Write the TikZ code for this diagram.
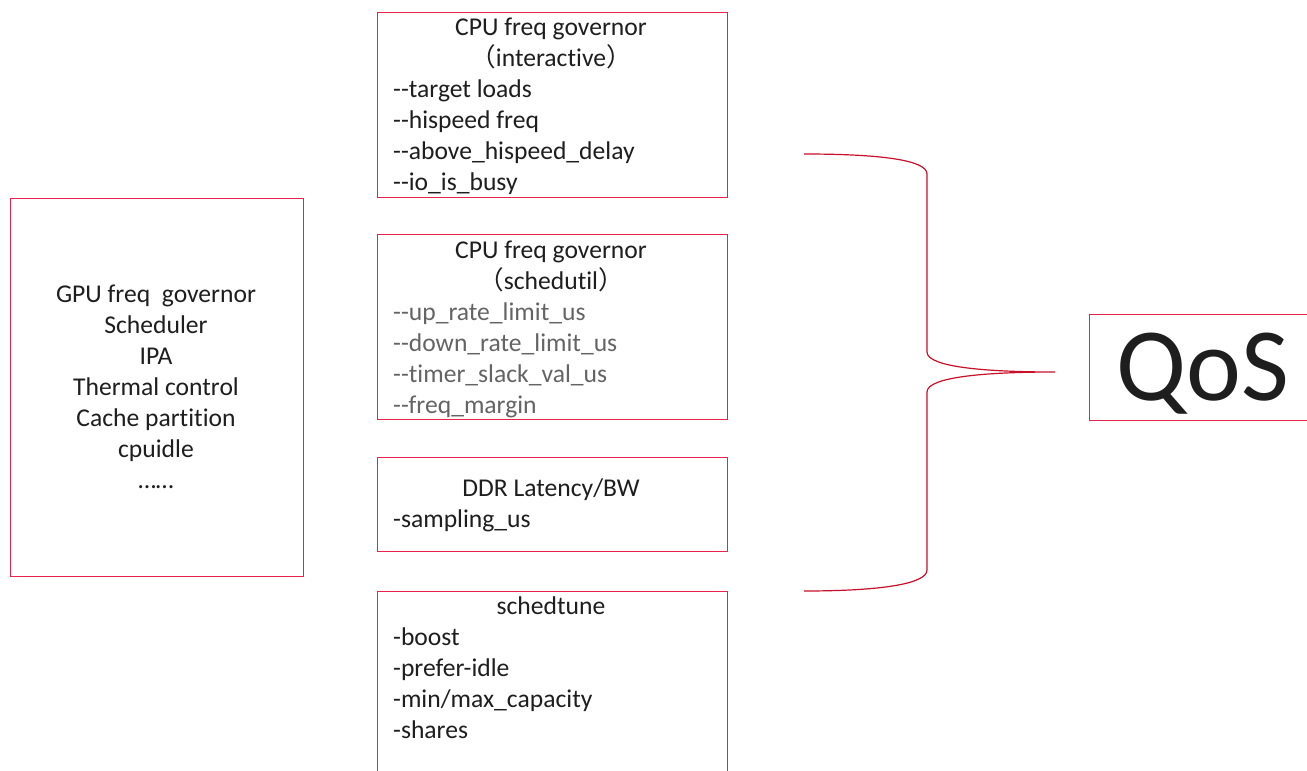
\documentclass[tikz,border=0pt]{standalone}
\usepackage{fontspec}
\setmainfont{Carlito}[Ligatures={ResetAll,NoCommon}]
\newfontfamily\cjk{Noto Sans CJK SC}
\definecolor{boxred}{RGB}{232,36,76}
\definecolor{bracered}{RGB}{200,16,40}
\definecolor{ink}{RGB}{30,30,30}
\definecolor{itemgray}{RGB}{100,100,100}
% fullwidth brackets taken from the CJK face, kept out of the line height
\newcommand{\fwl}{\smash{\cjk （}}
\newcommand{\fwr}{\smash{\cjk ）}}
% two plain hyphens, kept apart so they never merge into a dash
\newcommand{\dd}{-\kern0pt-}
\tikzset{
  frame/.style={draw=boxred, line width=1.2pt, anchor=north west, inner sep=0pt},
  items/.style={anchor=north west, inner sep=0pt, align=left, text=ink,
    font=\fontsize{25.6}{31}\selectfont},
  centred/.style={anchor=north, inner sep=0pt, align=center, text=ink,
    font=\fontsize{25.6}{31}\selectfont}
}
\begin{document}
\begin{tikzpicture}[x=1pt,y=-1pt]
\clip (0,0) rectangle (1307,771);
\fill[white] (0,0) rectangle (1307,771);

% left summary box
\node[frame, minimum width=293pt, minimum height=378pt] (misc) at (9.5,197.5) {};
\node[centred] (misctext) at (156,302-21.7)
  {\strut GPU freq\ \ governor\\Scheduler\\IPA\\Thermal control\\Cache partition\\cpuidle\\……};

% interactive governor
\node[frame, minimum width=350pt, minimum height=185pt] (inter) at (376.5,11.5) {};
\node[centred] (intertitle) at (551,35-21.7)
  {\strut CPU freq governor\\\fwl interactive\fwr};
\node[items] (interitems) at (393,97-21.7)
  {\strut \dd target loads\\\dd hispeed freq\\\dd above\_hispeed\_delay\\\dd io\_is\_busy};

% schedutil governor
\node[frame, minimum width=350pt, minimum height=185pt] (sutil) at (376.5,233.5) {};
\node[centred] (sutiltitle) at (551,258-21.7)
  {\strut CPU freq governor\\\fwl schedutil\fwr};
\node[items, text=itemgray] (sutilitems) at (393,320-21.7)
  {\strut \dd up\_rate\_limit\_us\\\dd down\_rate\_limit\_us\\\dd timer\_slack\_val\_us\\\dd freq\_margin};

% DDR devfreq
\node[frame, minimum width=350pt, minimum height=94pt] (ddr) at (376.5,456.5) {};
\node[centred] (ddrtitle) at (551,496-21.7) {\strut DDR Latency/BW};
\node[items] (ddritems) at (393,527-21.7) {\strut -sampling\_us};

% schedtune
\node[frame, minimum width=350pt, minimum height=220pt] (stune) at (376.5,590.5) {};
\node[centred] (stunetitle) at (551,614-21.7) {\strut schedtune};
\node[items] (stuneitems) at (393,645-21.7)
  {\strut -boost\\-prefer-idle\\-min/max\_capacity\\-shares};

% QoS target
\node[frame, minimum width=240pt, minimum height=106pt] (qos) at (1088.5,313.5) {};
\node[anchor=base, inner sep=0pt, text=ink, font=\fontsize{104}{110}\selectfont] (qostext) at (1203,400) {QoS};

% curly brace gathering the tunables
\coordinate (btop) at (804,154);
\coordinate (bbot) at (804,591);
\coordinate (btip) at (1055,372);
\draw[draw=bracered, line width=1.2pt] (btop) .. controls (880,154) and (927,160) .. (927,174)
  -- (927,352) .. controls (927,367) and (985,372) .. (btip)
  .. controls (985,372) and (927,377) .. (927,392)
  -- (927,570) .. controls (927,584) and (880,591) .. (bbot);
\end{tikzpicture}
\end{document}
